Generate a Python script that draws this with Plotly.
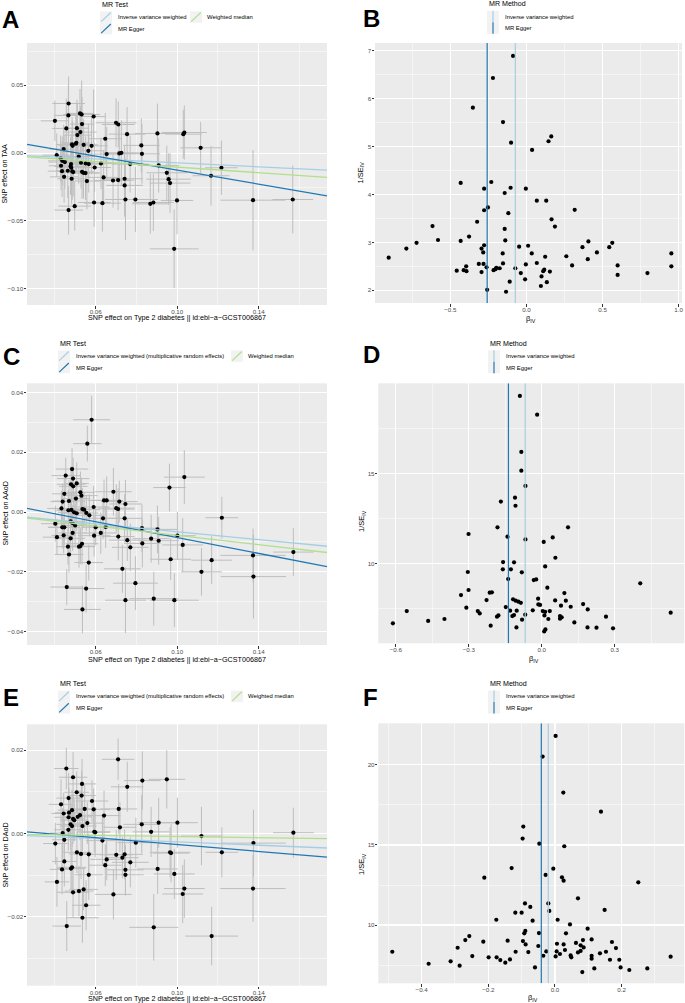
import plotly.graph_objects as go

W, H = 685, 1003
def px(x): return x / W
def py(y): return 1 - y / H

# ---------------- Panel A: scatter (TAA) ----------------
A_bx = [0.0467,0.0523,0.0531,0.0466,0.0590,0.0400,0.0700,0.0711,0.0533,0.0456,
        0.0508,0.0525,0.0510,0.0903,0.0754,0.1030,0.1035,0.0647,0.0484,0.0487,
        0.0503,0.0505,0.0541,0.0580,0.0824,0.1115,0.0443,0.0564,0.0726,0.0716,
        0.0654,0.0827,0.0409,0.0517,0.0428,0.0436,0.0449,0.0528,0.0551,0.0566,
        0.0626,0.0479,0.0769,0.0909,0.0430,0.0477,0.0480,0.0595,0.1217,0.0435,
        0.0463,0.0485,0.0490,0.0533,0.0540,0.0550,0.0949,0.0445,0.1166,0.0639,
        0.0742,0.0482,0.0958,0.0685,0.0710,0.0557,0.0965,0.0742,0.0746,0.0795,
        0.0592,0.0633,0.0868,0.0883,0.0999,0.1372,0.1567,0.0497,0.0467,0.0985]
A_by = [0.0366,0.0293,0.0285,0.0278,0.0270,0.0238,0.0224,0.0211,0.0214,0.0182,
        0.0184,0.0155,0.0133,0.0145,0.0140,0.0140,0.0152,0.0106,0.0064,0.0054,
        0.0069,0.0076,0.0061,0.0054,0.0057,0.0039,0.0030,0.0017,0.0002,-0.0002,
        -0.0007,-0.0005,-0.0015,-0.0025,-0.0039,-0.0057,-0.0066,-0.0071,-0.0076,-0.0081,
        -0.0076,-0.0081,-0.0081,-0.0091,-0.0093,-0.0098,-0.0108,-0.0106,-0.0108,-0.0133,
        -0.0130,-0.0135,-0.0140,-0.0138,-0.0145,-0.0147,-0.0145,-0.0175,-0.0167,-0.0179,
        -0.0189,-0.0189,-0.0192,-0.0202,-0.0199,-0.0206,-0.0221,-0.0238,-0.0342,-0.0342,
        -0.0364,-0.0369,-0.0374,-0.0364,-0.0349,-0.0347,-0.0342,-0.0391,-0.0420,-0.0706]
A_se_bx = [0.008,0.007,0.009,0.007,0.006,0.007,0.010,0.008,0.006,0.007,
           0.006,0.008,0.007,0.011,0.009,0.009,0.011,0.008,0.008,0.007,
           0.006,0.007,0.007,0.008,0.009,0.010,0.007,0.008,0.009,0.008,
           0.009,0.009,0.007,0.008,0.006,0.007,0.008,0.007,0.006,0.007,
           0.008,0.007,0.009,0.010,0.006,0.008,0.007,0.008,0.008,0.007,
           0.006,0.008,0.007,0.006,0.008,0.007,0.010,0.007,0.009,0.008,
           0.009,0.007,0.011,0.009,0.008,0.007,0.010,0.009,0.010,0.011,
           0.008,0.009,0.009,0.010,0.008,0.016,0.010,0.008,0.007,0.012]
A_se_by = [0.020,0.018,0.025,0.022,0.020,0.015,0.018,0.017,0.020,0.022,
           0.021,0.019,0.024,0.022,0.020,0.018,0.020,0.019,0.020,0.018,
           0.022,0.020,0.019,0.021,0.020,0.019,0.018,0.020,0.024,0.022,
           0.020,0.022,0.016,0.020,0.017,0.018,0.020,0.019,0.020,0.021,
           0.019,0.022,0.021,0.020,0.018,0.021,0.019,0.018,0.020,0.019,
           0.020,0.021,0.018,0.020,0.019,0.020,0.020,0.019,0.022,0.020,
           0.024,0.019,0.019,0.020,0.022,0.021,0.022,0.023,0.030,0.024,
           0.018,0.021,0.022,0.021,0.025,0.037,0.025,0.018,0.018,0.029]
A_methods = ["Inverse variance weighted", "MR Egger", "Weighted median"]
A_intercepts = [0.0, 0.0132, 0.0]
A_slopes = [-0.072, -0.2575, -0.103]

# ---------------- Panel B: funnel (TAA) ----------------
B_beta = [-0.088,-0.220,-0.352,-0.154,0.163,0.145,-0.101,0.037,-0.432,-0.231,
          -0.278,-0.104,-0.004,-0.143,0.068,0.130,-0.253,-0.278,0.317,-0.119,
          0.165,-0.324,0.187,-0.617,-0.143,-0.377,-0.581,-0.432,-0.139,-0.722,
          0.407,0.564,-0.278,-0.295,-0.789,-0.048,0.011,0.368,0.544,-0.284,
          -0.156,0.035,0.463,0.952,-0.905,0.123,0.262,0.403,0.068,-0.154,
          -0.313,-0.282,-0.004,0.300,0.599,0.952,-0.396,-0.262,-0.198,-0.176,
          -0.073,-0.458,-0.412,-0.394,-0.216,-0.203,0.117,0.110,0.154,-0.295,
          -0.037,0.795,0.599,0.099,-0.009,-0.110,0.134,0.095,-0.258,-0.134]
B_inv_se = [6.89,6.43,5.81,5.51,5.21,5.11,5.08,4.93,4.24,4.26,
            4.12,4.14,4.12,4.03,3.87,3.87,3.73,3.67,3.68,3.61,
            3.48,3.43,3.33,3.34,3.28,3.12,3.05,3.03,3.04,2.99,
            3.02,2.99,2.94,2.87,2.87,2.91,2.93,2.90,2.90,2.79,
            2.77,2.77,2.79,2.77,2.68,2.70,2.71,2.65,2.57,2.56,
            2.55,2.55,2.54,2.52,2.52,2.50,2.50,2.48,2.47,2.46,
            2.46,2.41,2.42,2.40,2.42,2.44,2.43,2.40,2.39,2.38,
            2.36,2.36,2.32,2.29,2.23,2.18,2.17,2.09,2.01,1.97]
B_methods = ["Inverse variance weighted", "MR Egger"]
B_b = [-0.073, -0.258]

# ---------------- Panel C: scatter (AAoD) ----------------
C_bx = [0.0580,0.0559,0.0484,0.0453,0.0489,0.1035,0.0962,0.0479,0.0490,0.0507,
        0.0446,0.0525,0.0530,0.0687,0.0503,0.0469,0.0438,0.0641,0.0654,0.0716,
        0.0746,0.0432,0.0466,0.0481,0.0494,0.0507,0.0535,0.0543,0.0701,0.0710,
        0.0554,0.0569,0.0590,0.0636,0.0742,0.1219,0.0402,0.0477,0.0487,0.0436,
        0.0446,0.0499,0.0600,0.0649,0.0827,0.0903,0.0625,0.0487,0.0410,0.0443,
        0.0592,0.0711,0.1001,0.0477,0.0872,0.0755,0.0909,0.0829,0.1027,0.0533,
        0.0525,0.0518,0.0464,0.0770,0.0469,0.1372,0.0968,0.1169,0.1570,0.0566,
        0.0731,0.1119,0.1374,0.0795,0.0458,0.0553,0.0885,0.0746,0.0986,0.0535]
C_by = [0.0309,0.0229,0.0144,0.0122,0.0112,0.0117,0.0082,0.0093,0.0086,0.0096,
        0.0061,0.0066,0.0055,0.0068,0.0045,0.0037,0.0035,0.0039,0.0039,0.0035,
        0.0027,0.0012,0.0006,0.0007,-0.0001,-0.0004,0.0010,0.0008,0.0013,0.0010,
        -0.0003,-0.0011,0.0017,-0.0021,-0.0021,-0.0019,-0.0039,-0.0031,-0.0037,-0.0051,
        -0.0051,-0.0045,-0.0051,-0.0050,-0.0054,-0.0058,-0.0070,-0.0070,-0.0084,-0.0078,
        -0.0079,-0.0082,-0.0079,-0.0088,-0.0089,-0.0094,-0.0096,-0.0105,-0.0110,-0.0106,
        -0.0114,-0.0116,-0.0116,-0.0118,-0.0142,-0.0145,-0.0158,-0.0161,-0.0134,-0.0169,
        -0.0190,-0.0200,-0.0216,-0.0238,-0.0251,-0.0256,-0.0290,-0.0295,-0.0295,-0.0326]
C_se_bx = [0.009,0.007,0.008,0.007,0.008,0.010,0.008,0.007,0.007,0.006,
           0.006,0.007,0.008,0.009,0.007,0.008,0.006,0.008,0.008,0.009,
           0.008,0.007,0.006,0.007,0.008,0.007,0.007,0.008,0.009,0.008,
           0.006,0.007,0.008,0.009,0.009,0.008,0.007,0.007,0.006,0.007,
           0.008,0.006,0.007,0.009,0.009,0.010,0.008,0.007,0.007,0.006,
           0.008,0.008,0.009,0.007,0.009,0.009,0.010,0.009,0.010,0.008,
           0.007,0.008,0.006,0.009,0.007,0.016,0.010,0.010,0.010,0.007,
           0.009,0.010,0.016,0.011,0.008,0.009,0.012,0.010,0.012,0.009]
C_se_by = [0.008,0.006,0.007,0.006,0.007,0.009,0.008,0.006,0.007,0.007,
           0.006,0.007,0.006,0.008,0.006,0.007,0.006,0.007,0.008,0.007,
           0.008,0.006,0.007,0.006,0.007,0.006,0.007,0.006,0.008,0.007,
           0.006,0.007,0.007,0.007,0.008,0.007,0.006,0.007,0.006,0.007,
           0.006,0.007,0.006,0.007,0.008,0.008,0.007,0.006,0.006,0.006,
           0.007,0.008,0.008,0.006,0.008,0.007,0.008,0.008,0.009,0.007,
           0.006,0.007,0.006,0.008,0.006,0.009,0.007,0.008,0.008,0.006,
           0.008,0.008,0.014,0.009,0.006,0.008,0.009,0.011,0.009,0.008]
C_methods = ["Inverse variance weighted (multiplicative random effects)", "MR Egger", "Weighted median"]
C_intercepts = [0.0, 0.0047, 0.0]
C_slopes = [-0.066, -0.1325, -0.078]

# ---------------- Panel D: funnel (AAoD) ----------------
D_beta = [-0.090,-0.019,-0.084,-0.084,-0.067,-0.110,-0.168,-0.108,-0.182,0.108,
          -0.301,-0.141,0.045,-0.067,0.008,0.056,-0.159,-0.114,0.014,-0.160,
          -0.127,-0.304,-0.082,-0.138,-0.033,-0.023,0.405,0.023,-0.301,-0.214,
          -0.205,-0.332,0.093,-0.227,-0.118,-0.107,-0.096,-0.086,-0.015,0.055,
          0.099,-0.014,-0.007,0.170,0.079,0.119,-0.310,-0.148,0.189,-0.555,
          -0.130,-0.103,-0.037,0.004,0.014,0.033,-0.263,-0.255,0.530,-0.068,
          -0.114,-0.121,0.011,-0.178,-0.184,0.075,0.082,0.264,-0.400,0.027,
          -0.081,0.075,-0.467,0.134,-0.612,-0.210,-0.104,0.188,0.225,0.293,
          0.015,0.010]
D_inv_se = [19.30,18.26,16.19,15.15,14.30,13.65,13.43,13.20,12.00,12.00,
            11.63,11.48,11.44,11.33,11.19,10.31,10.07,10.06,9.83,9.67,
            9.67,9.52,9.50,9.13,9.07,9.11,8.89,8.65,8.52,8.37,
            8.39,8.24,8.35,7.96,8.00,7.93,7.87,7.81,8.04,7.94,
            7.93,7.72,7.69,7.74,7.65,7.59,7.54,7.57,7.44,7.35,
            7.37,7.37,7.39,7.35,7.31,7.35,7.35,7.22,7.26,7.15,
            7.13,7.07,7.11,7.11,7.04,7.07,7.00,7.04,6.91,6.91,
            6.87,6.93,6.80,6.72,6.67,6.54,6.44,6.44,6.43,6.39,
            6.33,6.22]
D_methods = ["Inverse variance weighted", "MR Egger"]
D_b = [-0.068, -0.137]

# ---------------- Panel E: scatter (DAoD) ----------------
E_bx = [0.0710,0.0456,0.0489,0.0949,0.0829,0.0755,0.0533,0.0507,0.0531,0.0467,
        0.0582,0.0430,0.0484,0.0546,0.0590,0.0713,0.0443,0.0469,0.0641,0.0512,
        0.0523,0.0467,0.0489,0.0495,0.0559,0.0477,0.0484,0.0535,0.0719,0.0826,
        0.0909,0.1001,0.0466,0.0438,0.0593,0.0598,0.0872,0.1570,0.1119,0.0446,
        0.0633,0.0402,0.0797,0.1374,0.0508,0.0528,0.0566,0.0701,0.0742,0.0731,
        0.0965,0.0970,0.1219,0.0654,0.0446,0.0770,0.0647,0.0484,0.0479,0.0435,
        0.0904,0.0746,0.0746,0.0566,0.0986,0.0410,0.1035,0.1027,0.1372,0.0518,
        0.0541,0.0489,0.0687,0.0553,0.0535,0.0458,0.0885,0.1169]
E_by = [0.0178,0.0156,0.0135,0.0130,0.0127,0.0112,0.0119,0.0099,0.0091,0.0085,
        0.0078,0.0070,0.0056,0.0059,0.0058,0.0059,0.0048,0.0050,0.0043,0.0040,
        0.0044,0.0039,0.0035,0.0032,0.0025,0.0022,0.0018,0.0018,0.0015,0.0022,
        0.0026,0.0026,0.0009,0.0001,0.0004,0.0003,0.0004,0.0002,-0.0006,-0.0015,
        -0.0017,-0.0024,-0.0022,-0.0023,-0.0045,-0.0049,-0.0050,-0.0051,-0.0050,-0.0058,
        -0.0045,-0.0047,-0.0045,-0.0062,-0.0067,-0.0069,-0.0076,-0.0081,-0.0084,-0.0086,
        -0.0085,-0.0087,-0.0099,-0.0099,-0.0097,-0.0116,-0.0132,-0.0145,-0.0132,-0.0138,
        -0.0134,-0.0141,-0.0146,-0.0172,-0.0202,-0.0222,-0.0225,-0.0246]
E_se_bx = [0.008,0.006,0.007,0.009,0.009,0.008,0.007,0.006,0.007,0.006,
           0.008,0.006,0.007,0.006,0.008,0.009,0.006,0.007,0.008,0.007,
           0.006,0.007,0.006,0.007,0.008,0.007,0.006,0.007,0.008,0.009,
           0.010,0.010,0.007,0.006,0.008,0.007,0.009,0.010,0.010,0.006,
           0.008,0.006,0.009,0.016,0.007,0.006,0.007,0.008,0.009,0.008,
           0.010,0.009,0.008,0.008,0.006,0.009,0.008,0.007,0.007,0.006,
           0.010,0.009,0.009,0.007,0.010,0.006,0.010,0.010,0.016,0.007,
           0.007,0.008,0.009,0.007,0.008,0.007,0.012,0.013]
E_se_by = [0.005,0.005,0.006,0.007,0.007,0.006,0.006,0.005,0.006,0.006,
           0.005,0.006,0.005,0.006,0.005,0.006,0.005,0.006,0.006,0.005,
           0.006,0.005,0.006,0.005,0.005,0.006,0.005,0.006,0.006,0.007,
           0.006,0.006,0.005,0.006,0.005,0.006,0.006,0.006,0.007,0.005,
           0.006,0.005,0.006,0.008,0.005,0.006,0.005,0.006,0.006,0.005,
           0.006,0.007,0.006,0.005,0.006,0.006,0.005,0.006,0.005,0.006,
           0.006,0.006,0.005,0.006,0.006,0.006,0.007,0.007,0.008,0.006,
           0.005,0.006,0.006,0.006,0.006,0.006,0.008,0.007]
E_methods = ["Inverse variance weighted (multiplicative random effects)", "MR Egger", "Weighted median"]
E_intercepts = [0.0, 0.0015, 0.0]
E_slopes = [-0.020, -0.0414, -0.007]

# ---------------- Panel F: funnel (DAoD) ----------------
F_beta = [0.002,-0.037,0.025,0.138,-0.095,-0.097,-0.047,0.028,-0.005,-0.130,
          -0.028,-0.212,0.021,0.026,0.250,0.069,-0.090,-0.020,-0.074,0.149,
          -0.017,-0.119,-0.100,-0.176,0.008,-0.067,0.045,0.098,-0.089,-0.092,
          0.033,-0.257,-0.269,0.084,0.110,-0.215,-0.142,-0.096,-0.048,0.171,
          0.063,0.006,0.026,-0.088,0.077,0.086,-0.050,-0.292,0.183,0.030,
          -0.118,-0.080,0.005,-0.026,0.077,0.069,0.153,-0.488,0.135,0.015,
          -0.035,0.047,0.002,0.110,-0.248,-0.199,-0.175,0.347,0.049,0.110,
          0.193,-0.164,-0.135,0.165,-0.313,-0.149,-0.379,-0.286,-0.060,0.118,
          0.197,0.277,0.223,0.082]
F_inv_se = [21.81,20.52,18.27,17.08,16.15,15.40,15.08,14.92,13.52,13.56,
            13.13,12.96,12.98,12.77,12.67,11.67,11.35,11.35,11.13,10.94,
            10.88,10.77,10.77,10.33,10.33,10.27,10.04,9.77,9.63,9.48,
            9.48,9.31,9.06,9.06,9.10,8.96,9.02,9.00,9.50,8.94,
            8.88,8.83,8.79,8.79,8.73,8.60,8.69,8.58,8.56,8.44,
            8.33,8.31,8.35,8.35,8.38,8.29,8.33,8.33,8.23,8.19,
            8.08,8.10,8.04,8.08,8.06,7.98,7.98,8.02,7.98,7.90,
            7.83,7.81,7.85,7.83,7.73,7.65,7.58,7.46,7.35,7.29,
            7.35,7.29,7.19,7.06]
F_methods = ["Inverse variance weighted", "MR Egger"]
F_b = [-0.020, -0.041]

# ---------------- styling ----------------
MCOL = {"ivw": "#A6CEE3", "egger": "#1F78B4", "wm": "#B2DF8A"}
SCAT_COLS = [MCOL["ivw"], MCOL["egger"], MCOL["wm"]]
FUN_COLS = [MCOL["ivw"], MCOL["egger"]]
FONT = "Liberation Sans, Arial, sans-serif"
BG = "#EBEBEB"
ERR = "#BEBEBE"

fig = go.Figure()

def axis(dom, rng, major, minor, labels, anchor, standoff):
    return dict(domain=dom, range=rng, tickvals=major, ticktext=labels,
                showgrid=True, gridcolor="white", gridwidth=1.1,
                minor=dict(tickvals=minor, showgrid=True, gridcolor="white",
                           gridwidth=0.5, ticks=""),
                ticks="outside", ticklen=2.5, tickwidth=1, tickcolor="#333333",
                ticklabelstandoff=standoff,
                tickfont=dict(size=6.2, color="#4D4D4D", family=FONT),
                zeroline=False, showline=False, anchor=anchor, fixedrange=True,
                automargin=False)

def fmt(v, d):
    s = f"{abs(v):.{d}f}"
    return ("\u2212" + s) if v < 0 else s

x_sc_major = [0.06, 0.10, 0.14]
x_sc_minor = [0.04, 0.08, 0.12, 0.16]
x_sc_range = [0.0263, 0.1735]

panels = [
    dict(kind="scatter", ax="", box=(27, 327, 43, 305), bx=A_bx, by=A_by, sbx=A_se_bx, sby=A_se_by,
         a=A_intercepts, b=A_slopes, yr=[-0.112, 0.0812], ymaj=[-0.10, -0.05, 0.0, 0.05],
         ymin=[-0.075, -0.025, 0.025, 0.075], yd=2),
    dict(kind="funnel", ax="2", box=(375, 682, 43, 303), bx=B_beta, by=B_inv_se, b=B_b,
         xr=[-0.995, 1.022], xmaj=[-0.5, 0.0, 0.5, 1.0], xmin=[-0.75, -0.25, 0.25, 0.75], xd=1,
         yr=[1.735, 7.16], ymaj=[2, 3, 4, 5, 6, 7], ymin=[2.5, 3.5, 4.5, 5.5, 6.5], yd=0),
    dict(kind="scatter", ax="3", box=(27, 327, 383.3, 645), bx=C_bx, by=C_by, sbx=C_se_bx, sby=C_se_by,
         a=C_intercepts, b=C_slopes, yr=[-0.0445, 0.0431], ymaj=[-0.04, -0.02, 0.0, 0.02, 0.04],
         ymin=[-0.03, -0.01, 0.01, 0.03], yd=2),
    dict(kind="funnel", ax="4", box=(378.3, 684.3, 383.3, 643.3), bx=D_beta, by=D_inv_se, b=D_b,
         xr=[-0.672, 0.586], xmaj=[-0.6, -0.3, 0.0, 0.3], xmin=[-0.45, -0.15, 0.15, 0.45], xd=1,
         yr=[5.56, 20.0], ymaj=[10, 15], ymin=[7.5, 12.5, 17.5], yd=0),
    dict(kind="scatter", ax="5", box=(27, 327, 724.3, 985.7), bx=E_bx, by=E_by, sbx=E_se_bx, sby=E_se_by,
         a=E_intercepts, b=E_slopes, yr=[-0.0365, 0.0262], ymaj=[-0.02, 0.0, 0.02],
         ymin=[-0.03, -0.01, 0.01], yd=2),
    dict(kind="funnel", ax="6", box=(378.3, 684.3, 723.3, 983.3), bx=F_beta, by=F_inv_se, b=F_b,
         xr=[-0.530, 0.388], xmaj=[-0.4, -0.2, 0.0, 0.2], xmin=[-0.5, -0.3, -0.1, 0.1, 0.3], xd=1,
         yr=[6.36, 22.6], ymaj=[10, 15, 20], ymin=[7.5, 12.5, 17.5], yd=0),
]

layout_axes = {}
shapes = []
for p in panels:
    x0, x1, y0, y1 = p["box"]
    xa = "x" + p["ax"]
    ya = "y" + p["ax"]
    if p["kind"] == "scatter":
        xr, xmaj, xmin, xlab = x_sc_range, x_sc_major, x_sc_minor, [fmt(v, 2) for v in x_sc_major]
    else:
        xr, xmaj, xmin, xlab = p["xr"], p["xmaj"], p["xmin"], [fmt(v, p["xd"]) for v in p["xmaj"]]
    ylab = [fmt(v, p["yd"]) for v in p["ymaj"]]
    layout_axes["xaxis" + p["ax"]] = axis([px(x0), px(x1)], xr, xmaj, xmin, xlab, ya, -2)
    layout_axes["yaxis" + p["ax"]] = axis([py(y1), py(y0)], p["yr"], p["ymaj"], p["ymin"], ylab, xa, -1)

    if p["kind"] == "scatter":
        fig.add_trace(go.Scatter(
            x=p["bx"], y=p["by"], mode="markers", xaxis=xa, yaxis=ya, showlegend=False,
            marker=dict(color="black", size=4.2), hoverinfo="skip",
            error_x=dict(type="data", array=p["sbx"], color=ERR, thickness=1, width=0),
            error_y=dict(type="data", array=p["sby"], color=ERR, thickness=1, width=0)))
        for a, b, col in zip(p["a"], p["b"], SCAT_COLS):
            fig.add_trace(go.Scatter(
                x=xr, y=[a + b * xr[0], a + b * xr[1]], mode="lines", xaxis=xa, yaxis=ya,
                showlegend=False, hoverinfo="skip", line=dict(color=col, width=1.3)))
    else:
        fig.add_trace(go.Scatter(
            x=p["bx"], y=p["by"], mode="markers", xaxis=xa, yaxis=ya, showlegend=False,
            hoverinfo="skip", marker=dict(color="black", size=4.2)))
        for b, col in zip(p["b"], FUN_COLS):
            fig.add_trace(go.Scatter(
                x=[b, b], y=p["yr"], mode="lines", xaxis=xa, yaxis=ya,
                showlegend=False, hoverinfo="skip", line=dict(color=col, width=1.2)))

annotations = []
def text(x, y, s, size, color="black", xanchor="left", angle=0, yanchor="middle"):
    annotations.append(dict(x=px(x), y=py(y), xref="paper", yref="paper", text=s, showarrow=False,
                            xanchor=xanchor, yanchor=yanchor, textangle=angle,
                            font=dict(size=size, color=color, family=FONT)))

def key_box(x, y, w=12, h=11.5):
    shapes.append(dict(type="rect", xref="paper", yref="paper", x0=px(x), x1=px(x + w),
                       y0=py(y + h), y1=py(y), fillcolor="#F2F2F2", line=dict(width=0), layer="above"))

def key_diag(x, y, col, w=12, h=11.5):
    shapes.append(dict(type="line", xref="paper", yref="paper", x0=px(x + 1.2), y0=py(y + h - 1.2),
                       x1=px(x + w - 1.2), y1=py(y + 1.2), line=dict(color=col, width=1.2), layer="above"))

def key_vert(x, y, col, w=12, h=11.5):
    shapes.append(dict(type="line", xref="paper", yref="paper", x0=px(x + w / 2), y0=py(y + h),
                       x1=px(x + w / 2), y1=py(y), line=dict(color=col, width=1.2), layer="above"))

# Panel letters
for L, (x, y) in zip("ABCDEF", [(0, 19), (361, 18), (1, 357), (361, 355), (1, 697), (361, 697)]):
    annotations.append(dict(x=px(x), y=py(y), xref="paper", yref="paper", text="<b>" + L + "</b>",
                            showarrow=False, xanchor="left", yanchor="middle",
                            font=dict(size=24, color="black", family=FONT)))

# Scatter legends
for (tx, ty, kx, wmx, methods) in [(100, 4, 100, 190, A_methods), (58, 343, 58, 231, C_methods), (58, 683.3, 58, 231, E_methods)]:
    text(tx, ty + 0.5, "MR Test", 7.1)
    k0 = ty + 7.3
    key_box(kx, k0); key_diag(kx, k0, SCAT_COLS[0])
    key_box(kx, k0 + 11.5); key_diag(kx, k0 + 11.5, SCAT_COLS[1])
    key_box(wmx, k0); key_diag(wmx, k0, SCAT_COLS[2])
    text(kx + 16, k0 + 5.8, methods[0], 5.9)
    text(kx + 16, k0 + 17.3, methods[1], 5.9)
    text(wmx + 14.5, k0 + 5.8, methods[2], 5.9)

# Funnel legends
for (tx, ty, methods) in [(487, 3.5, B_methods), (488, 343, D_methods), (488, 683.3, F_methods)]:
    text(tx, ty + 0.5, "MR Method", 7.1)
    k0 = ty + 7.3
    key_box(tx, k0); key_vert(tx, k0, FUN_COLS[0])
    key_box(tx, k0 + 11.5); key_vert(tx, k0 + 11.5, FUN_COLS[1])
    text(tx + 15.5, k0 + 5.8, methods[0], 5.9)
    text(tx + 15.5, k0 + 17.3, methods[1], 5.9)

# Axis titles
xt = "SNP effect on Type 2 diabetes || id:ebi\u2212a\u2212GCST006867"
text(176.7, 318, xt, 7.2, xanchor="center")
text(176.7, 659, xt, 7.2, xanchor="center")
text(176.7, 998.5, xt, 7.2, xanchor="center")
text(4.5, 174, "SNP effect on TAA", 7.2, xanchor="center", angle=-90)
text(4.5, 514, "SNP effect on AAoD", 7.2, xanchor="center", angle=-90)
text(4.5, 855, "SNP effect on DAoD", 7.2, xanchor="center", angle=-90)
btitle = "\u03b2<sub>IV</sub>"
stitle = "1/SE<sub>IV</sub>"
text(530.7, 318.5, btitle, 7.5, xanchor="center")
text(534, 658.5, btitle, 7.5, xanchor="center")
text(532.7, 998, btitle, 7.5, xanchor="center")
text(360.5, 173, stitle, 7.5, xanchor="center", angle=-90)
text(362, 521, stitle, 7.5, xanchor="center", angle=-90)
text(362, 864, stitle, 7.5, xanchor="center", angle=-90)

fig.update_layout(
    width=W, height=H, margin=dict(l=0, r=0, t=0, b=0, autoexpand=False),
    paper_bgcolor="white", plot_bgcolor=BG, showlegend=False, hovermode=False,
    font=dict(family=FONT, color="black"),
    annotations=annotations, shapes=shapes,
    **layout_axes)

fig.write_html("out.html", config={"displayModeBar": False, "staticPlot": True},
               post_script="document.body.style.margin='0';document.body.style.padding='0';"
                           "document.body.style.overflow='hidden';")
